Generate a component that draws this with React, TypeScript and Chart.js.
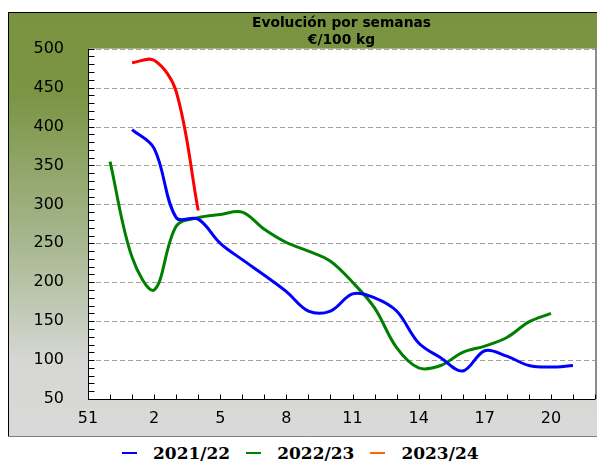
import { useEffect, useRef } from 'react';
import { Chart, registerables } from 'chart.js';

Chart.register(...registerables);

const weeks = ['51', '52', '1', '2', '3', '4', '5', '6', '7', '8', '9', '10', '11', '12', '13', '14', '15', '16', '17', '18', '19', '20', '21', '22'];
const season2122 = [null, null, 396, 372, 283, 281, 250, 229, 209, 188, 163, 163, 185, 180, 163, 122, 103, 86, 112, 105, 93, 91, 93, null];
const season2223 = [null, 355, 232, 190, 272, 283, 287, 290, 268, 251, 240, 227, 200, 167, 116, 90, 93, 110, 118, 129, 149, 160, null, null];
const season2324 = [null, null, 482, 485, 445, 292, null, null, null, null, null, null, null, null, null, null, null, null, null, null, null, null, null, null];

const seriesNames = ['2021/22', '2022/23', '2023/24'];
const lineColors = ['#0000ff', '#008000', '#ff0000'];
const legendColors = ['#0000ff', '#008000', '#ff6600'];
const gridValues = [100, 150, 200, 250, 300, 350, 400, 450, 500];
const titleLines = ['Evolución por semanas', '€/100 kg'];

const framePlugin = {
  id: 'framePlugin',
  beforeDraw(chart: any) {
    const { ctx, width, height, chartArea: a } = chart;
    ctx.save();
    const g = ctx.createLinearGradient(0, 0, 0, height);
    g.addColorStop(0, '#799340');
    g.addColorStop(0.2, '#7c9545');
    g.addColorStop(0.55, '#a8b891');
    g.addColorStop(0.82, '#d6d7d4');
    g.addColorStop(1, '#d9d9d9');
    ctx.fillStyle = g;
    ctx.fillRect(0, 0, width, height);
    ctx.fillStyle = '#ffffff';
    ctx.fillRect(a.left, a.top, a.right - a.left, a.bottom - a.top);
    ctx.lineWidth = 1;
    ctx.strokeStyle = '#000000';
    ctx.beginPath();
    ctx.moveTo(0, 0.5);
    ctx.lineTo(width, 0.5);
    ctx.moveTo(0.5, 0);
    ctx.lineTo(0.5, height);
    ctx.stroke();
    ctx.strokeStyle = '#808080';
    ctx.beginPath();
    ctx.moveTo(0, height - 0.5);
    ctx.lineTo(width, height - 0.5);
    ctx.stroke();
    ctx.restore();
  },
  beforeDatasetsDraw(chart: any) {
    const { ctx, chartArea: a, scales } = chart;
    const ys = scales.y;
    const xs = scales.x;
    ctx.save();
    ctx.lineWidth = 1;
    ctx.strokeStyle = '#a0a0a0';
    ctx.setLineDash([5, 3]);
    gridValues.forEach((v) => {
      const py = Math.round(ys.getPixelForValue(v)) + 0.5;
      ctx.beginPath();
      ctx.moveTo(a.left, py);
      ctx.lineTo(a.right, py);
      ctx.stroke();
    });
    ctx.setLineDash([]);
    ctx.strokeStyle = '#8c8c8c';
    ctx.lineWidth = 2;
    ctx.beginPath();
    ctx.moveTo(a.right + 1, a.top);
    ctx.lineTo(a.right + 1, a.bottom);
    ctx.stroke();
    ctx.strokeStyle = '#000000';
    ctx.lineWidth = 1;
    ctx.beginPath();
    const lx = Math.round(a.left) + 0.5;
    const by = Math.round(a.bottom) + 0.5;
    ctx.moveTo(lx, a.top);
    ctx.lineTo(lx, by);
    ctx.lineTo(a.right, by);
    for (let v = 50; v <= 500; v += 10) {
      const py = Math.round(ys.getPixelForValue(v)) + 0.5;
      ctx.moveTo(lx, py);
      ctx.lineTo(lx + 6, py);
    }
    for (let i = 0; i < weeks.length; i++) {
      const px = Math.round(xs.getPixelForValue(i)) + 0.5;
      ctx.moveTo(px, by);
      ctx.lineTo(px, by - 5);
    }
    ctx.stroke();
    ctx.restore();
  },
};

export default function App() {
  const ref = useRef<HTMLCanvasElement | null>(null);

  useEffect(() => {
    document.documentElement.style.overflow = 'hidden';
    const canvas = ref.current;
    if (!canvas) return;
    const seriesData = [season2122, season2223, season2324];
    const chart = new Chart(canvas, {
      type: 'line',
      data: {
        labels: weeks,
        datasets: seriesNames.map((name, k) => ({
          label: name,
          data: seriesData[k],
          borderColor: lineColors[k],
          backgroundColor: lineColors[k],
          borderWidth: 3,
          pointRadius: 0,
          tension: 0.35,
          fill: false,
        })),
      },
      options: {
        responsive: false,
        animation: false,
        layout: { padding: { left: 0, right: 10, top: 0, bottom: 0 } },
        plugins: {
          legend: { display: false },
          tooltip: { enabled: false },
          title: {
            display: true,
            text: titleLines,
            fullSize: false,
            color: '#000000',
            font: { family: 'DejaVu Sans', size: 13.8, weight: 'bold', lineHeight: 1.22 },
            padding: { top: 3, bottom: 0 },
          },
        },
        scales: {
          x: {
            type: 'category',
            offset: false,
            grid: { display: false },
            border: { display: false },
            ticks: {
              autoSkip: false,
              maxRotation: 0,
              minRotation: 0,
              padding: 2,
              color: '#000000',
              font: { family: 'DejaVu Sans', size: 16 },
              callback: (_v: any, i: number) => (i % 3 === 0 ? weeks[i] : ''),
            },
            afterFit: (s: any) => {
              s.height = 38;
            },
          },
          y: {
            min: 50,
            max: 500,
            grid: { display: false },
            border: { display: false },
            ticks: {
              stepSize: 50,
              padding: 16,
              color: '#000000',
              font: { family: 'DejaVu Sans', size: 16 },
            },
            afterFit: (s: any) => {
              s.width = 80;
            },
          },
        },
      } as any,
      plugins: [framePlugin],
    });
    return () => chart.destroy();
  }, []);

  return (
    <div style={{ position: 'relative', width: 597, height: 453 }}>
      <canvas
        ref={ref}
        width={597}
        height={425}
        style={{ position: 'absolute', left: 0, top: 4, width: 597, height: 425, display: 'block' }}
      />
      <div
        style={{
          position: 'absolute',
          left: 114,
          top: 436,
          height: 18,
          display: 'flex',
          alignItems: 'center',
          whiteSpace: 'nowrap',
          fontFamily: 'DejaVu Serif',
          fontWeight: 'bold',
          fontSize: 17,
          lineHeight: '18px',
          color: '#000',
        }}
      >
        {seriesNames.map((name, k) => (
          <div key={name} style={{ display: 'flex', alignItems: 'center', marginRight: 16 }}>
            <span style={{ display: 'inline-block', width: 15, height: 2, background: legendColors[k], marginRight: 16 }} />
            <span>{name}</span>
          </div>
        ))}
      </div>
    </div>
  );
}
